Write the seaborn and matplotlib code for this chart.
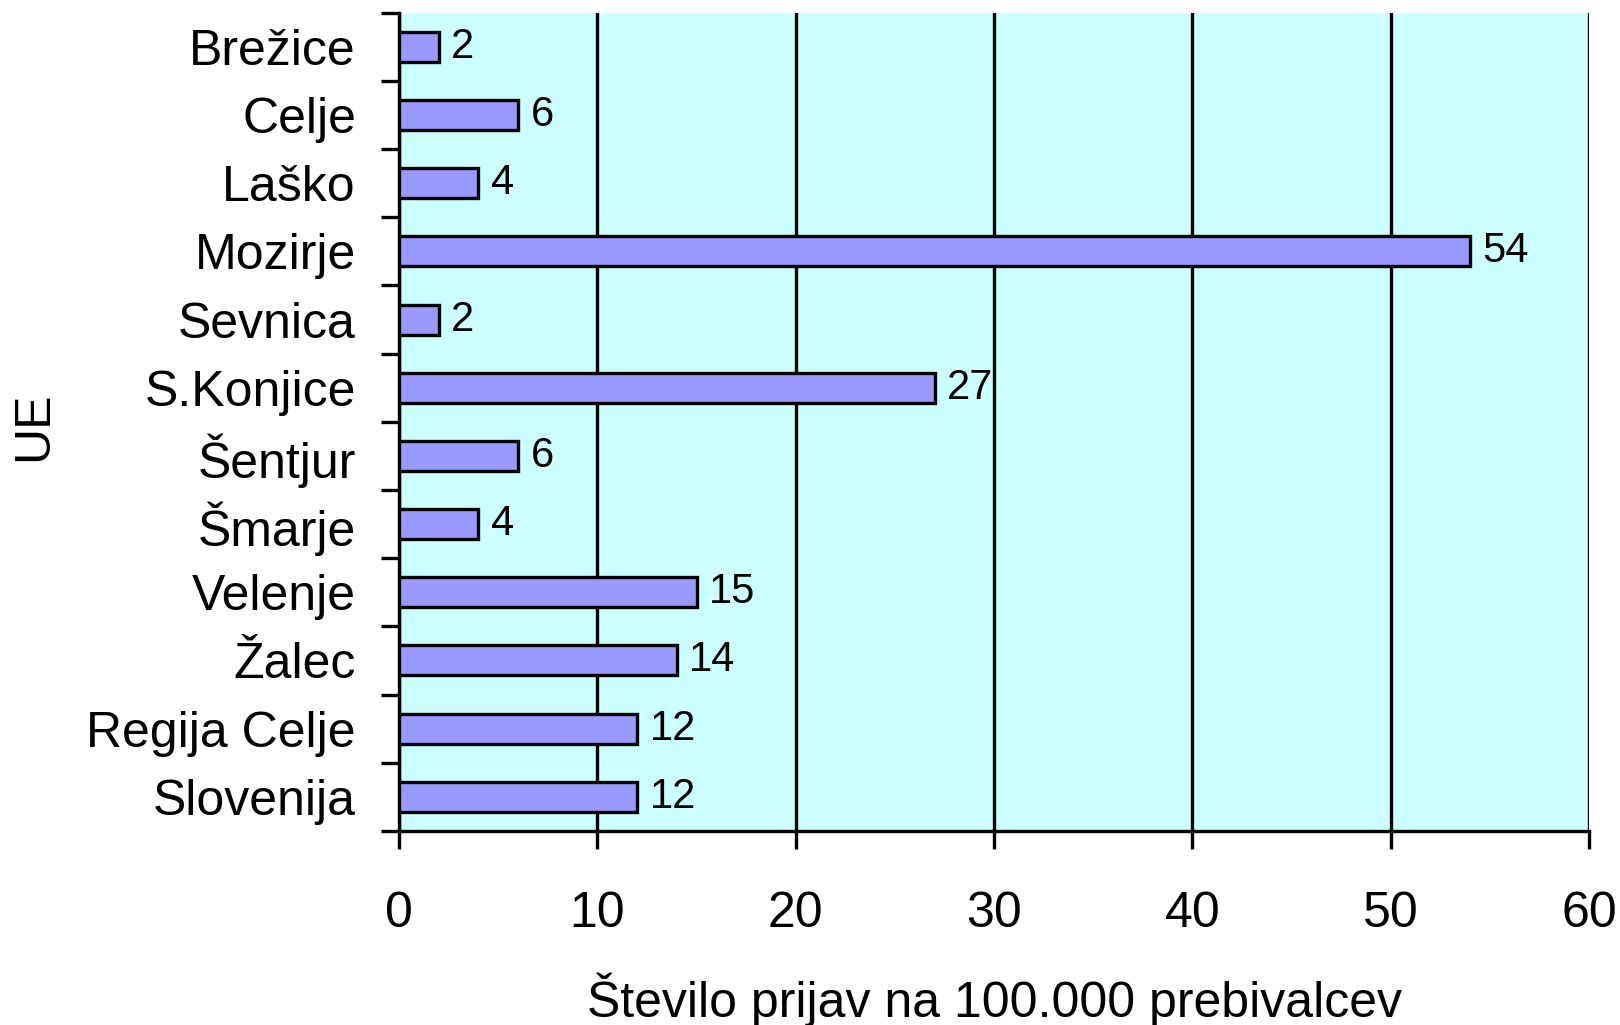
import pandas as pd
import matplotlib.pyplot as plt
import seaborn as sns

# values
categories = ['Brežice', 'Celje', 'Laško', 'Mozirje', 'Sevnica', 'S.Konjice',
              'Šentjur', 'Šmarje', 'Velenje', 'Žalec', 'Regija Celje', 'Slovenija']
values = [2, 6, 4, 54, 2, 27, 6, 4, 15, 14, 12, 12]
xticks = [0, 10, 20, 30, 40, 50, 60]

df = pd.DataFrame({'UE': categories, 'value': values})

sns.set_style('white')
plt.rcParams['font.family'] = ['Liberation Sans', 'DejaVu Sans']
plt.rcParams['text.color'] = 'black'
plt.rcParams['axes.labelcolor'] = 'black'
plt.rcParams['xtick.color'] = 'black'
plt.rcParams['ytick.color'] = 'black'

fig = plt.figure(figsize=(16.2, 10.25), dpi=100)
ax = fig.add_axes([0.2463, 0.1893, 0.7346, 0.7983])
ax.set_facecolor('#CCFFFF')

sns.barplot(data=df, x='value', y='UE', orient='h', color='#9999FF',
            saturation=1, width=0.44, edgecolor='black', linewidth=2.4, ax=ax, zorder=3)

for c in ax.containers:
    ax.bar_label(c, padding=9, fontsize=30, color='black')

ax.set_xlim(0, 60)
ax.set_ylim(11.5, -0.5)
ax.set_xticks(xticks)
ax.set_xticklabels([str(t) for t in xticks])
ax.grid(axis='x', color='black', linewidth=2.4, zorder=1)
ax.set_axisbelow(True)

# category labels without ticks, tick marks between the categories
ax.set_yticks(range(len(categories)))
ax.set_yticklabels(categories)
ax.set_yticks([i - 0.5 for i in range(len(categories) + 1)], minor=True)
ax.tick_params(axis='y', which='major', length=0, pad=31, labelsize=36)
ax.tick_params(axis='y', which='minor', length=13, width=2.4, color='black', direction='out', left=True)
ax.tick_params(axis='x', which='major', length=13, width=2.4, color='black', direction='out',
               bottom=True, pad=30, labelsize=36)

for side in ['top', 'right']:
    ax.spines[side].set_visible(False)
for side in ['left', 'bottom']:
    ax.spines[side].set_color('black')
    ax.spines[side].set_linewidth(2.4)

ax.set_xlabel('Število prijav na 100.000 prebivalcev', fontsize=36, labelpad=26)
ax.set_ylabel('UE', fontsize=36)
ax.yaxis.set_label_coords(-0.287, 0.495)

fig.savefig('out.png', dpi=100)
